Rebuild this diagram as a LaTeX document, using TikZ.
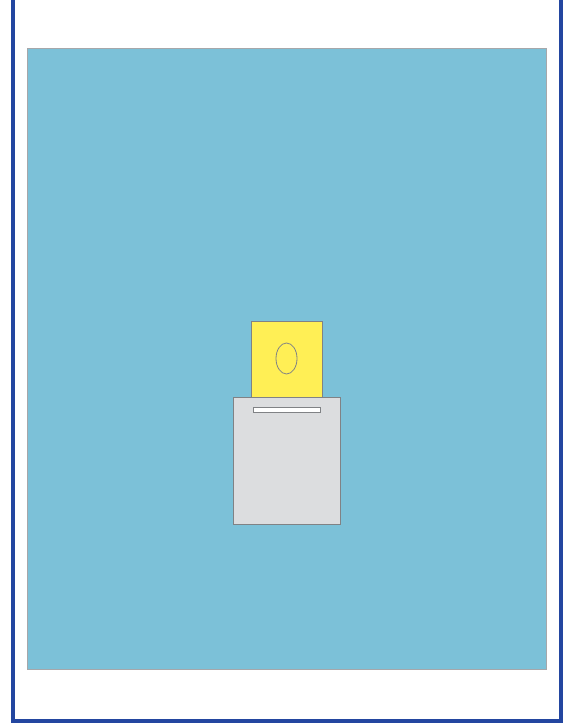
\documentclass[tikz,border=0pt]{standalone}
\usetikzlibrary{shapes.geometric}
\definecolor{framebl}{HTML}{2346A0}
\definecolor{panelbl}{HTML}{7CC1D8}
\definecolor{cardyl}{HTML}{FFEF55}
\definecolor{boxgr}{HTML}{DCDDDF}
\definecolor{edgegr}{HTML}{808285}
\begin{document}
\begin{tikzpicture}[x=1pt,y=-1pt,
  outl/.style={draw=edgegr,line width=0.8pt}]
\useasboundingbox (0,0) rectangle (576,727);
\fill[white] (0,0) rectangle (576,727);
% outer frame (open at top)
\draw[framebl,line width=4pt] (13,-5) -- (13,721) -- (561,721) -- (561,-5);
% panel
\node[fill=panelbl,draw=edgegr!70,line width=0.8pt,inner sep=0,minimum width=518.5pt,minimum height=620.5pt,anchor=north west] (panel) at (27,48) {};
% card
\node[fill=cardyl,outl,inner sep=0,minimum width=71.5pt,minimum height=76pt,anchor=north west] (card) at (250.7,321) {};
\node[ellipse,draw=edgegr,line width=0.8pt,inner sep=0,minimum width=21pt,minimum height=31pt] (hole) at (286.5,358.5) {};
% box
\node[fill=boxgr,outl,inner sep=0,minimum width=106.7pt,minimum height=126.7pt,anchor=north west] (box) at (233.3,397.3) {};
\node[fill=white,outl,inner sep=0,minimum width=66.4pt,minimum height=5.3pt,anchor=north west] (slot) at (253.3,406.7) {};
\end{tikzpicture}
\end{document}
